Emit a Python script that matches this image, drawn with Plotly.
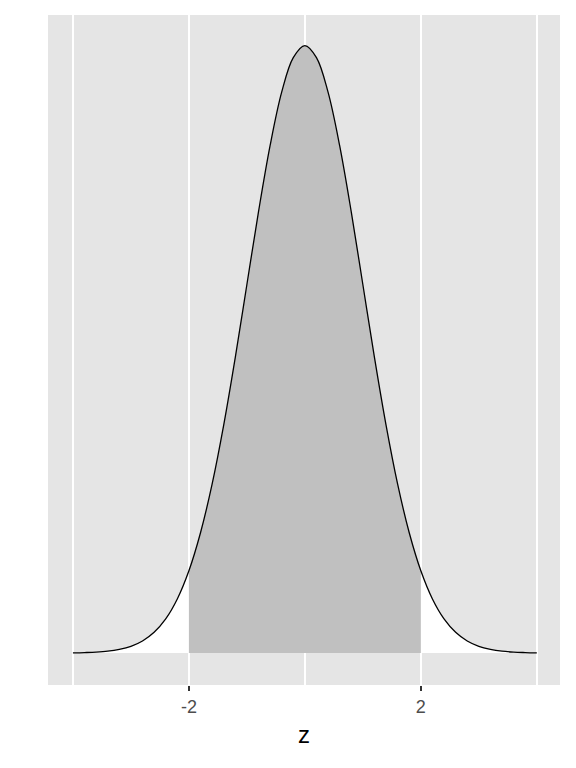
import plotly.graph_objects as go

half = [0.3989, 0.3910, 0.3683, 0.3332, 0.2897, 0.2420, 0.1942, 0.1497, 0.1109, 0.0790,
        0.0540, 0.0355, 0.0224, 0.0136, 0.0079, 0.0044, 0.0024, 0.0012, 0.0006, 0.0003, 0.0001]
z = [round(-4 + 0.2 * i, 1) for i in range(41)]
density = half[::-1] + half[1:]
lo, hi = -2, 2
zs = [v for v in z if lo <= v <= hi]
ds = [d for v, d in zip(z, density) if lo <= v <= hi]

fig = go.Figure()
fig.add_trace(go.Scatter(x=z, y=density, fill="tozeroy", fillcolor="white", mode="none",
                         line=dict(shape="spline")))
fig.add_trace(go.Scatter(x=zs, y=ds, fill="tozeroy", fillcolor="#C0C0C0", mode="none",
                         line=dict(shape="spline")))
fig.add_trace(go.Scatter(x=z, y=density, mode="lines", line=dict(color="black", width=1.3, shape="spline")))

fig.update_layout(
    width=568, height=760, showlegend=False,
    paper_bgcolor="white", plot_bgcolor="#E5E5E5",
    margin=dict(l=40, r=16, t=7, b=83),
    font=dict(family="Liberation Sans, Arial", color="#4D4D4D", size=17),
)
fig.update_xaxes(range=[-4.43, 4.40], tickvals=[-2, 2], ticktext=["-2", "2"],
                 ticks="outside", ticklen=5, tickwidth=1.5, tickcolor="#333333",
                 tickfont=dict(size=18, color="#4D4D4D", family="Liberation Sans, Arial"),
                 showgrid=True, gridcolor="white", gridwidth=1.6, zeroline=False,
                 minor=dict(tickvals=[-4, 0, 4], showgrid=True, gridcolor="white", gridwidth=1.6, ticks=""),
                 title=dict(text="z", font=dict(size=24, color="black", family="Liberation Sans, Arial"), standoff=10))
fig.update_yaxes(range=[-0.021, 0.419], showticklabels=False, showgrid=False, zeroline=False, ticks="")
fig.write_html("out.html")
